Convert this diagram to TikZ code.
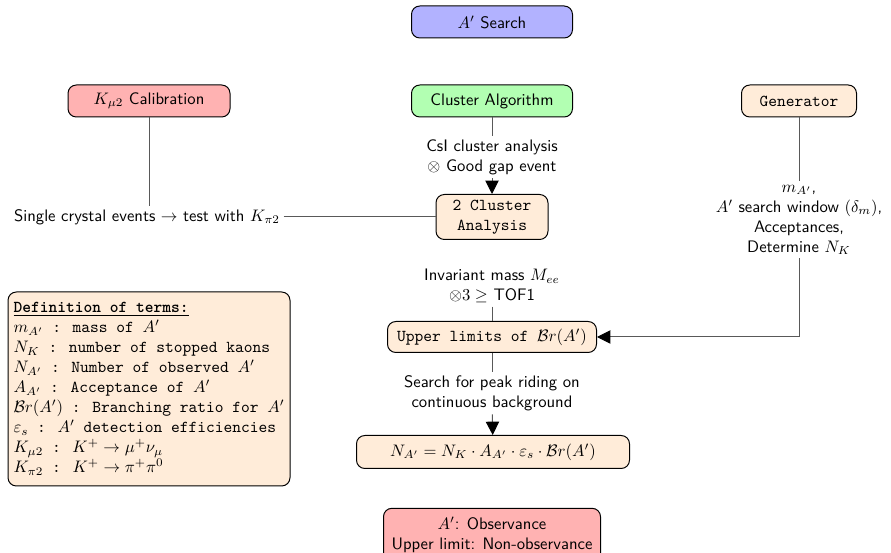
\documentclass[tikz,border=0pt]{standalone}
\renewcommand{\familydefault}{\sfdefault}
\usetikzlibrary{arrows.meta}
\tikzset{
  box/.style={draw=black, line width=0.6pt, rounded corners=5pt, inner sep=2pt, align=center},
  conn/.style={draw=black!65, line width=0.6pt},
  arr/.style={conn, -{Triangle[length=8pt,width=8pt,color=black]}},
  lbl/.style={inner sep=2pt, align=center, font=\normalsize},
}
\begin{document}
\begin{tikzpicture}[x=0.6pt,y=-0.6pt]
\useasboundingbox (0,0) rectangle (891,553);
% boxes
\node[box, fill=blue!30, minimum width=96.6pt, minimum height=19.2pt] (search) at (492,22) {$A'$ Search};
\node[box, fill=red!30, minimum width=97.2pt, minimum height=19.2pt] (calib) at (149,101) {$K_{\mu 2}$ Calibration};
\node[box, fill=green!30, minimum width=96.6pt, minimum height=19.2pt] (cluster) at (492,101) {Cluster Algorithm};
\node[box, fill=orange!15, minimum width=69pt, minimum height=19.2pt, font=\ttfamily] (gen) at (799,101) {Generator};
\node[box, fill=orange!15, minimum width=67.2pt, minimum height=27pt, font=\ttfamily] (two) at (492,217) {2 Cluster\\Analysis};
\node[box, fill=orange!15, minimum width=125.4pt, minimum height=18.6pt, font=\ttfamily] (upper) at (492,337) {Upper limits of $\mathcal{B}r(A')$};
\node[box, fill=orange!15, minimum width=163.8pt, minimum height=19.8pt] (formula) at (493,452) {$N_{A'} = N_K \cdot A_{A'} \cdot \varepsilon_s \cdot \mathcal{B}r(A')$};
\node[box, fill=red!30, minimum width=130.2pt, minimum height=32pt] (obs) at (492,535) {$A'$: Observance\\Upper limit: Non-observance};
\node[box, fill=orange!15, minimum width=169.2pt, minimum height=116.4pt, align=left, font=\ttfamily, inner sep=3pt] (defs) at (149,389) {%
\underline{\textbf{Definition of terms:}}\\
$m_{A'}$ : mass of $A'$\\
$N_K$ : number of stopped kaons\\
$N_{A'}$ : Number of observed $A'$\\
$A_{A'}$ : Acceptance of $A'$\\
$\mathcal{B}r(A')$ : Branching ratio for $A'$\\
$\varepsilon_s$ : $A'$ detection efficiencies\\
$K_{\mu 2}$ : $K^+ \to \mu^+\nu_\mu$\\
$K_{\pi 2}$ : $K^+ \to \pi^+\pi^0$};
% labels
\node[lbl] (l1) at (492,157) {CsI cluster analysis\\$\otimes$ Good gap event};
\node[lbl] (l2) at (147,217) {Single crystal events $\rightarrow$ test with $K_{\pi 2}$};
\node[lbl] (l3) at (799,220) {$m_{A'}$,\\$A'$ search window $(\delta_m)$,\\Acceptances,\\Determine $N_K$};
\node[lbl] (l4) at (492,286) {Invariant mass $M_{ee}$\\$\otimes 3 \geq$ TOF1};
\node[lbl] (l5) at (492,393) {Search for peak riding on\\continuous background};
% connectors
\draw[conn] (cluster) -- (l1);
\draw[arr] (l1) -- (two);
\draw[conn] (calib.south) -- (calib.south |- l2.north);
\draw[conn] (l2) -- (two);
\draw[conn] (gen) -- (l3);
\draw[arr] (l3) |- (upper);
\draw[conn] (l4) -- (upper);
\draw[conn] (upper) -- (l5);
\draw[arr] (l5) -- (formula);
\end{tikzpicture}
\end{document}
